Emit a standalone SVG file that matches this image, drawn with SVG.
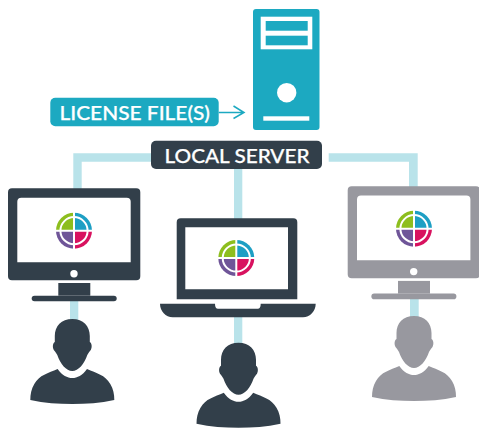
<svg xmlns="http://www.w3.org/2000/svg" xmlns:xlink="http://www.w3.org/1999/xlink" width="479" height="428" viewBox="0 0 479 428">
<style>
.link{fill:#b9e3ea}
.teal{fill:#1ca9c1}
.dark{fill:#323f4a}
.grey{fill:#98989f}
.white{fill:#fff}
.label{font-family:Lato,"Liberation Sans",sans-serif;font-size:19px;font-weight:500;fill:#fff;stroke:#fff;stroke-width:.25px}
</style>
<defs>
<g id="logo">
<path d="M0 0V-18A18 18 0 0 0 -18 0Z" fill="#8dbe1e"/>
<path d="M0 0H18A18 18 0 0 0 0 -18Z" fill="#1d9fc4"/>
<path d="M0 0H-18A18 18 0 0 0 0 18Z" fill="#6f5598"/>
<path d="M0 0V18A18 18 0 0 0 18 0Z" fill="#d8125f"/>
<circle r="13.600" fill="none" stroke="#fff" stroke-width="2"/>
<path d="M0 -19V19M-19 0H19" fill="none" stroke="#fff" stroke-width="2"/>
</g>
<g id="monitor">
<path fill-rule="evenodd" d="M4 0H128.300A4 4 0 0 1 132.300 4V88A4 4 0 0 1 128.300 92H4A4 4 0 0 1 0 88V4A4 4 0 0 1 4 0Z M13.300 9.400A4 4 0 0 0 9.300 13.400V74H122.700V13.400A4 4 0 0 0 118.700 9.400Z"/>
<circle class="white" cx="66" cy="85.400" r="3.700"/>
<rect x="50.300" y="94.700" width="32" height="12.700"/>
<rect x="23.700" y="107.400" width="85" height="5.600" rx="2.800"/>
</g>
<g id="person">
<path d="M0 0C-11 0 -17.500 7 -17.500 17V23C-19.500 24 -20 28 -18.500 31C-17 33 -16 34 -15 36C-12 45 -6 52 0 52C6 52 12 45 15 36C16 34 17 33 18.500 31C20 28 19.500 24 17.500 23V17C17.500 7 11 0 0 0Z"/>
<path d="M-14.700 50C-10 56.500 -5 59 0 59C5 59 10 56.500 14.700 50C24 54 33 56 38 65C41 70 42 75 42 81C28 84 14 85 0 85C-14 85 -28 84 -42 81C-42 75 -41 70 -38 65C-33 56 -24 54 -14.700 50Z"/>
</g>
</defs>
<g id="connectors">
<path class="link" d="M151 153.300H73.300V189H81.700V161.700H151Z"/>
<rect class="link" x="234" y="169" width="8.300" height="50"/>
<path class="link" d="M328.700 153.300H417.700V187H409V161.700H328.700Z"/>
<rect class="link" x="70" y="301" width="8.300" height="20"/>
<rect class="link" x="234" y="317" width="8.300" height="27"/>
<rect class="link" x="410" y="299" width="8.700" height="19"/>
<g fill="none" stroke="#1ca9c1" stroke-width="1.500" id="license-arrow">
<path d="M218.700 112.500H243.500M233.500 106L244 112.500L233.500 118.500"/>
</g>
</g>
<g id="server">
<rect class="teal" x="253" y="9" width="66.500" height="121" rx="3"/>
<rect class="white" x="260.700" y="16.700" width="51.600" height="32.600"/>
<rect class="teal" x="265.700" y="21" width="42" height="9.700"/>
<rect class="teal" x="265.700" y="35.700" width="42" height="9.600"/>
<circle class="white" cx="286.700" cy="92.700" r="9.700"/>
<rect class="white" x="263.300" y="116.300" width="46" height="4.400"/>
</g>
<g id="license-file">
<rect class="teal" x="50.300" y="97.700" width="168.400" height="28.600" rx="5"/>
<text class="label" x="59.500" y="119.500" textLength="150.500" lengthAdjust="spacingAndGlyphs">LICENSE FILE(S)</text>
</g>
<g id="local-server">
<rect class="dark" x="151" y="140.700" width="171" height="28.300" rx="5"/>
<text class="label" x="164.500" y="162.500" textLength="145" lengthAdjust="spacingAndGlyphs">LOCAL SERVER</text>
</g>
<g id="workstation-left" class="dark">
<use xlink:href="#monitor" href="#monitor" x="8" y="188.300"/>
<use xlink:href="#logo" href="#logo" x="74" y="230.700"/>
</g>
<g id="laptop" class="dark">
<path fill-rule="evenodd" d="M180.700 218.300H293.300A4 4 0 0 1 297.300 222.300V299.300H176.700V222.300A4 4 0 0 1 180.700 218.300Z M185.300 227.300V289.300H288V227.300Z"/>
<path d="M160 303.700H215C215 307 216 308.700 218 308.700H257.700C259.700 308.700 260.700 307 260.700 303.700H315.700C315.700 311 310 317.300 303 317.300H172.700C165.700 317.300 160 311 160 303.700Z"/>
<use xlink:href="#logo" href="#logo" x="236.300" y="258"/>
</g>
<g id="workstation-right" class="grey">
<use xlink:href="#monitor" href="#monitor" x="347.700" y="186.200"/>
<use xlink:href="#logo" href="#logo" x="414" y="228.700"/>
</g>
<g id="user-left" class="dark"><use xlink:href="#person" href="#person" x="72.300" y="319"/></g>
<g id="user-center" class="dark"><use xlink:href="#person" href="#person" x="238.500" y="342.700"/></g>
<g id="user-right" class="grey"><use xlink:href="#person" href="#person" x="414" y="316"/></g>
</svg>
